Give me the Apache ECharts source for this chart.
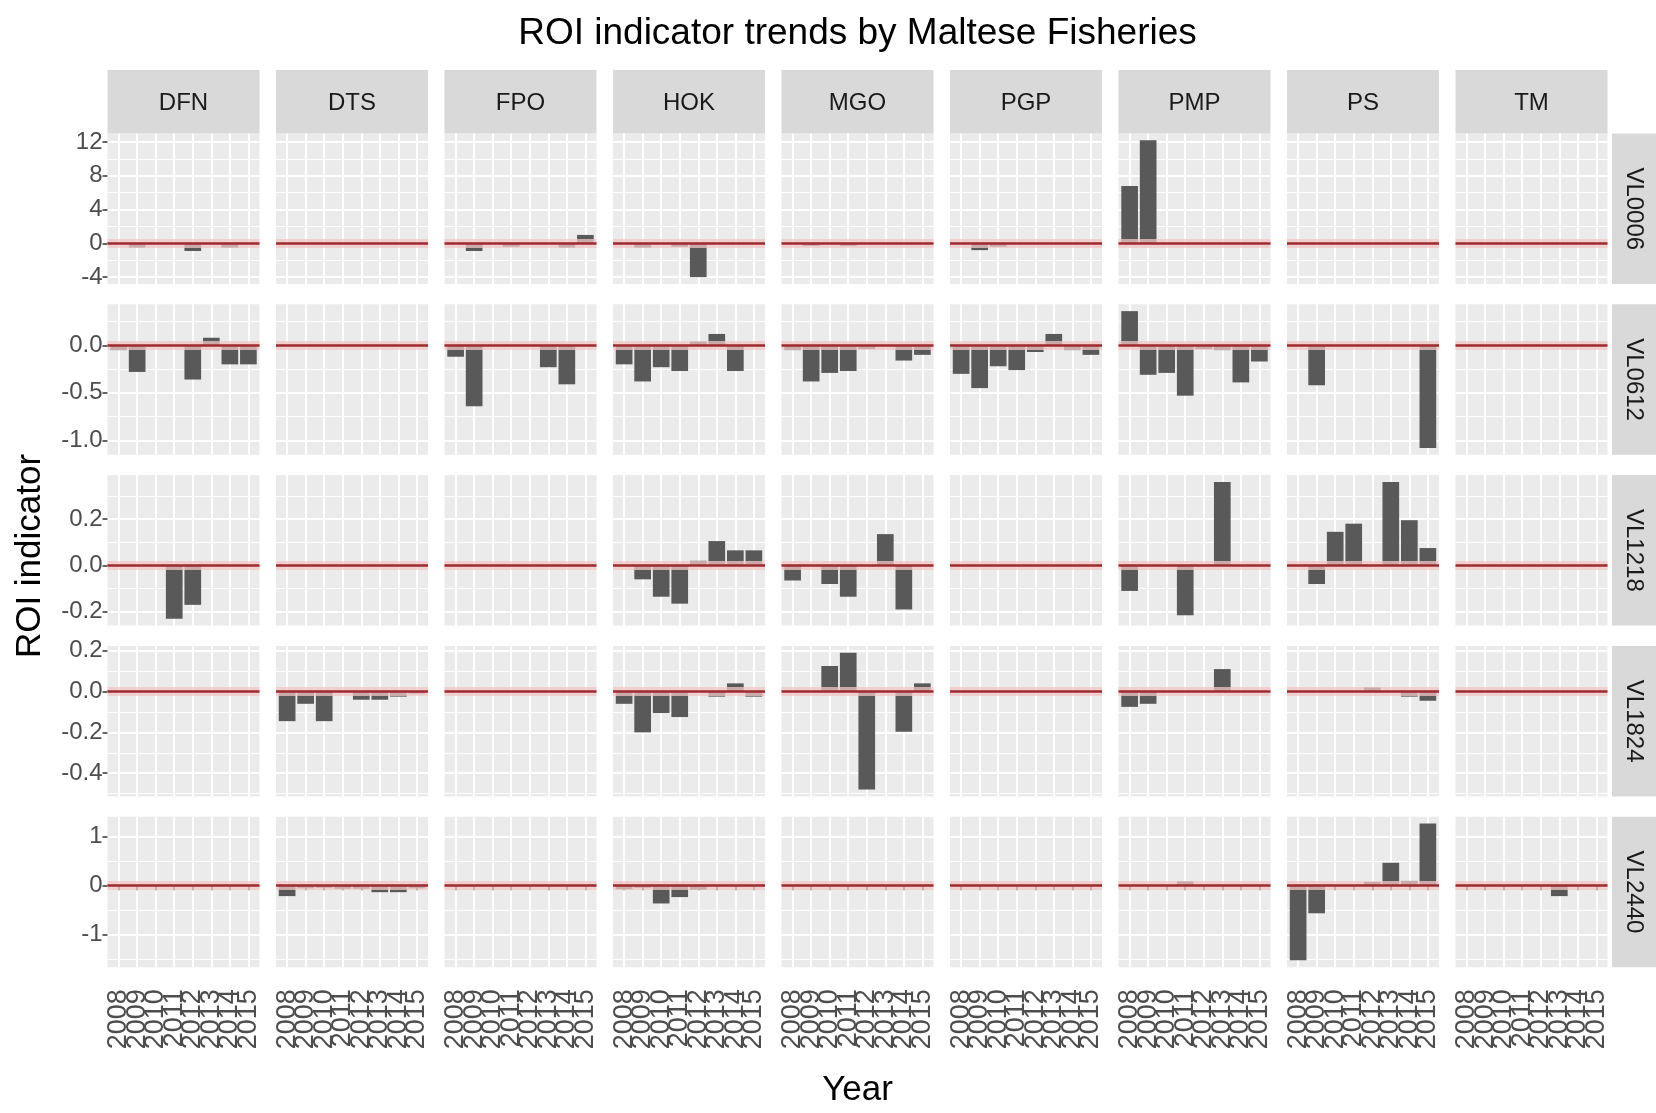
<!DOCTYPE html>
<html><head><meta charset="utf-8">
<script src="https://cdn.jsdelivr.net/npm/echarts@6/dist/echarts.min.js"></script>
<style>html,body{margin:0;padding:0;background:#fff}#c{width:1656px;height:1113px}</style>
</head><body><div id="c"></div>
<script>
// ---------------- data ----------------
const TITLE = 'ROI indicator trends by Maltese Fisheries';
const X_TITLE = 'Year';
const Y_TITLE = 'ROI indicator';
const FISHERIES = ['DFN', 'DTS', 'FPO', 'HOK', 'MGO', 'PGP', 'PMP', 'PS', 'TM'];
const LENGTHS = ['VL0006', 'VL0612', 'VL1218', 'VL1824', 'VL2440'];
const YEARS = [2008, 2009, 2010, 2011, 2012, 2013, 2014, 2015];

// one row per fishery (FISHERIES order), one value per year (YEARS order)
const ROI_VL0006 = [
  [0, -0.5, 0, 0, -0.9, 0, -0.5, 0],
  [0, 0, 0, 0, 0, 0, 0, 0],
  [0, -0.9, 0, -0.4, 0, 0, -0.5, 1.0],
  [0, -0.5, 0, -0.4, -4.0, 0, 0, 0],
  [0, -0.3, 0, -0.3, 0, 0, 0, 0],
  [0, -0.8, -0.4, 0, 0, 0, 0, 0],
  [6.8, 12.2, 0, 0, 0, 0, 0, 0],
  [0, 0, 0, 0, 0, 0, 0, 0],
  [0, 0, 0, 0, 0, 0, 0, 0]
];
const ROI_VL0612 = [
  [-0.05, -0.28, 0, 0, -0.36, 0.08, -0.2, -0.2],
  [0, 0, 0, 0, 0, 0, 0, 0],
  [-0.12, -0.64, 0, 0, 0, -0.23, -0.41, 0],
  [-0.2, -0.38, -0.23, -0.27, 0.04, 0.12, -0.27, 0],
  [-0.05, -0.38, -0.29, -0.27, -0.04, 0, -0.16, -0.1],
  [-0.3, -0.45, -0.22, -0.26, -0.07, 0.12, -0.05, -0.1],
  [0.36, -0.31, -0.29, -0.53, -0.04, -0.05, -0.39, -0.17],
  [0, -0.42, 0, 0, 0, 0, 0, -1.08],
  [0, 0, 0, 0, 0, 0, 0, 0]
];
const ROI_VL1218 = [
  [0, 0, 0, -0.23, -0.17, 0, 0, 0],
  [0, 0, 0, 0, 0, 0, 0, 0],
  [0, 0, 0, 0, 0, 0, 0, 0],
  [0, -0.06, -0.135, -0.165, 0.02, 0.105, 0.065, 0.065],
  [-0.065, 0, -0.08, -0.135, 0, 0.135, -0.19, 0],
  [0, 0, 0, 0, 0, 0, 0, 0],
  [-0.11, 0, 0, -0.215, 0, 0.36, 0, 0],
  [0, -0.08, 0.145, 0.18, 0, 0.36, 0.195, 0.075],
  [0, 0, 0, 0, 0, 0, 0, 0]
];
const ROI_VL1824 = [
  [0, 0, 0, 0, 0, 0, 0, 0],
  [-0.145, -0.06, -0.145, 0, -0.04, -0.04, -0.025, -0.01],
  [0, 0, 0, 0, 0, 0, 0, 0],
  [-0.06, -0.2, -0.105, -0.125, 0, -0.025, 0.04, -0.025],
  [0, 0, 0.125, 0.19, -0.48, 0, -0.197, 0.04],
  [0, 0, 0, 0, 0, 0, 0, 0],
  [-0.075, -0.06, 0, 0, 0, 0.11, 0, 0],
  [0, 0, 0, 0, 0.02, 0, -0.025, -0.045],
  [0, 0, 0, 0, 0, 0, 0, 0]
];
const ROI_VL2440 = [
  [0, 0, 0, 0, 0, 0, 0, 0],
  [-0.22, -0.06, -0.05, -0.07, -0.07, -0.14, -0.14, -0.06],
  [0, 0, 0, 0, 0, 0, 0, 0],
  [-0.08, -0.05, -0.37, -0.24, -0.09, 0, 0, 0],
  [0, 0, 0, 0, 0, 0, 0, 0],
  [0, 0, 0, 0, 0, 0, 0, 0],
  [0, 0, 0, 0.08, 0, 0, 0, 0],
  [-1.53, -0.57, 0, 0, 0.07, 0.46, 0.09, 1.26],
  [0, 0, 0, 0, 0, -0.22, 0, 0]
];
const ROWS = [ROI_VL0006, ROI_VL0612, ROI_VL1218, ROI_VL1824, ROI_VL2440];

// y-axis tick labels per row
const Y_BREAKS = [
  [-4, 0, 4, 8, 12],
  [-1.0, -0.5, 0.0],
  [-0.2, 0.0, 0.2],
  [-0.4, -0.2, 0.0, 0.2],
  [-1, 0, 1]
];
const Y_DECIMALS = [0, 1, 1, 1, 0];
const ZERO_LINE = 0;

// ---------------- layout / style ----------------
const FONT = "'Liberation Sans', Arial, Helvetica, sans-serif";
const PANEL_LEFT0 = 107.5, PANEL_PITCH_X = 168.5, PANEL_W = 152;
const PANEL_TOP0 = 133.5, PANEL_PITCH_Y = 170.8, PANEL_H = 150.5;
const STRIP_TOP = 70, STRIP_H = 63.5;
const RSTRIP_LEFT = 1612, RSTRIP_W = 44;
const X_EXPAND = 0.6;
const BAR_W = PANEL_W / (YEARS.length - 1 + 2 * X_EXPAND) * 0.9;
const X_MIN = YEARS[0] - X_EXPAND, X_MAX = YEARS[YEARS.length - 1] + X_EXPAND;
// labels are split over two stacked axes so that ECharts does not drop overlapping ones
const YEARS_A = YEARS.filter((y, i) => i % 2 === 0);
const YEARS_B = YEARS.filter((y, i) => i % 2 === 1);
const XLABEL = { rotate: 90, margin: 22, showMinLabel: true, showMaxLabel: true, hideOverlap: false,
  fontSize: 27, color: '#4D4D4D', fontFamily: FONT, formatter: v => String(v) };

const grids = [], xAxes = [], extraXAxes = [], yAxes = [], series = [], graphics = [];

ROWS.forEach((rowData, r) => {
  // ggplot-like free y scale with 5% expansion
  let lo = 0, hi = 0;
  rowData.forEach(a => a.forEach(v => { lo = Math.min(lo, v); hi = Math.max(hi, v); }));
  const span = hi - lo;
  const yMin = lo - 0.05 * span, yMax = hi + 0.05 * span;
  const majors = Y_BREAKS[r];
  const step = majors[1] - majors[0];
  const minors = [];
  for (let i = -1; i < majors.length; i++) {
    const m = majors[0] + (i + 0.5) * step;
    if (m > yMin && m < yMax) minors.push(+m.toFixed(6));
  }
  const dec = Y_DECIMALS[r];

  FISHERIES.forEach((f, c) => {
    const idx = grids.length;
    const left = PANEL_LEFT0 + c * PANEL_PITCH_X;
    const top = PANEL_TOP0 + r * PANEL_PITCH_Y;
    grids.push({
      left: left, top: top, width: PANEL_W, height: PANEL_H,
      show: true, backgroundColor: '#EBEBEB', borderWidth: 0, containLabel: false
    });
    const bottomRow = r === ROWS.length - 1;
    const firstCol = c === 0;
    xAxes.push({
      gridIndex: idx, type: 'value', position: 'bottom',
      min: X_MIN, max: X_MAX,
      axisLine: { show: false },
      axisTick: { show: bottomRow, customValues: YEARS, length: 5, lineStyle: { color: '#333', width: 1.5 } },
      axisLabel: Object.assign({ show: bottomRow, customValues: YEARS_A }, XLABEL),
      splitLine: { show: true, lineStyle: { color: '#FFFFFF', width: 2 } }
    });
    if (bottomRow) {
      extraXAxes.push({
        gridIndex: idx, type: 'value', position: 'bottom', offset: 0,
        min: X_MIN, max: X_MAX,
        axisLine: { show: false },
        axisTick: { show: false, customValues: YEARS_B },
        axisLabel: Object.assign({ show: true, customValues: YEARS_B }, XLABEL),
        splitLine: { show: false }
      });
    }
    yAxes.push({
      gridIndex: idx, type: 'value', min: yMin, max: yMax,
      axisLine: { show: false },
      axisTick: { show: firstCol, customValues: majors, length: 5, lineStyle: { color: '#333', width: 1.5 } },
      axisLabel: {
        show: firstCol, customValues: majors, margin: 5,
        showMinLabel: true, showMaxLabel: true,
        fontSize: 24, color: '#4D4D4D', fontFamily: FONT,
        formatter: v => Number(v).toFixed(dec)
      },
      splitLine: { show: true, lineStyle: { color: '#FFFFFF', width: 2 } }
    });
    // minor grid lines
    series.push({
      type: 'line', xAxisIndex: idx, yAxisIndex: idx, data: [], silent: true, animation: false,
      markLine: {
        silent: true, symbol: 'none', z: 1, animation: false,
        label: { show: false },
        lineStyle: { color: '#FFFFFF', width: 1, type: 'solid' },
        data: minors.map(v => ({ yAxis: v }))
      }
    });
    // bars + red zero line
    series.push({
      type: 'bar', xAxisIndex: idx, yAxisIndex: idx, silent: true, animation: false,
      barWidth: BAR_W, z: 2,
      itemStyle: { color: '#595959' },
      data: YEARS.map((y, k) => [y, rowData[c][k]]),
      markLine: {
        silent: true, symbol: 'none', z: 5, animation: false,
        label: { show: false },
        data: [
          { yAxis: ZERO_LINE, lineStyle: { color: '#F2C6C6', width: 9, type: 'solid', opacity: 0.75 } },
          { yAxis: ZERO_LINE, lineStyle: { color: '#9C2A2E', width: 2.5, type: 'solid' } }
        ]
      }
    });
  });

  // right strip
  const top = PANEL_TOP0 + r * PANEL_PITCH_Y;
  graphics.push({
    type: 'rect', shape: { x: RSTRIP_LEFT, y: top, width: RSTRIP_W, height: PANEL_H },
    style: { fill: '#D9D9D9' }, silent: true
  });
  graphics.push({
    type: 'text', x: RSTRIP_LEFT + RSTRIP_W / 2, y: top + PANEL_H / 2, rotation: -Math.PI / 2,
    style: { text: LENGTHS[r], fontSize: 24, fontFamily: FONT, fill: '#1A1A1A', align: 'center', verticalAlign: 'middle' },
    silent: true
  });
});

// top strips
FISHERIES.forEach((f, c) => {
  const left = PANEL_LEFT0 + c * PANEL_PITCH_X;
  graphics.push({
    type: 'rect', shape: { x: left, y: STRIP_TOP, width: PANEL_W, height: STRIP_H },
    style: { fill: '#D9D9D9' }, silent: true
  });
  graphics.push({
    type: 'text', x: left + PANEL_W / 2, y: STRIP_TOP + STRIP_H / 2 + 2,
    style: { text: f, fontSize: 24, fontFamily: FONT, fill: '#1A1A1A', align: 'center', verticalAlign: 'middle' },
    silent: true
  });
});

const panelsCenterX = PANEL_LEFT0 + ((FISHERIES.length - 1) * PANEL_PITCH_X + PANEL_W) / 2;
graphics.push({
  type: 'text', x: panelsCenterX, y: 34,
  style: { text: TITLE, fontSize: 37, fontFamily: FONT, fill: '#000', align: 'center', verticalAlign: 'middle' },
  silent: true
});
graphics.push({
  type: 'text', x: panelsCenterX, y: 1090,
  style: { text: X_TITLE, fontSize: 35, fontFamily: FONT, fill: '#000', align: 'center', verticalAlign: 'middle' },
  silent: true
});
graphics.push({
  type: 'text', x: 30, y: 556, rotation: Math.PI / 2,
  style: { text: Y_TITLE, fontSize: 35, fontFamily: FONT, fill: '#000', align: 'center', verticalAlign: 'middle' },
  silent: true
});

const chart = echarts.init(document.getElementById('c'), null, { renderer: 'canvas' });
chart.setOption({
  backgroundColor: '#FFFFFF',
  animation: false,
  grid: grids, xAxis: xAxes.concat(extraXAxes), yAxis: yAxes, series: series,
  graphic: { elements: graphics }
});
</script>
</body></html>
